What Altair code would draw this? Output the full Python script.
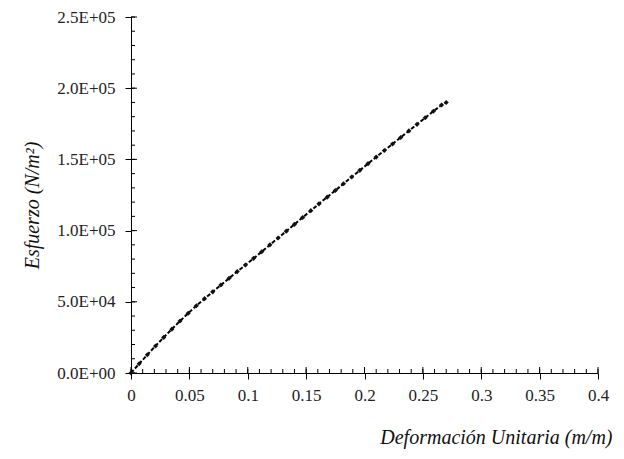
import altair as alt
import pandas as pd
import numpy as np

# Data
strain = [0, 0.007, 0.014, 0.021, 0.028, 0.035, 0.042, 0.049, 0.056, 0.063,
          0.070, 0.077, 0.084, 0.091, 0.098, 0.105, 0.112, 0.119, 0.126, 0.133,
          0.140, 0.147, 0.154, 0.161, 0.168, 0.175, 0.182, 0.189, 0.196, 0.203,
          0.210, 0.217, 0.224, 0.231, 0.238, 0.245, 0.252, 0.259, 0.266, 0.270]
stress = [0, 6500, 12800, 19000, 25000, 30800, 36500, 42000, 47200, 52200,
          57000, 61800, 66500, 71200, 75800, 80500, 85200, 90000, 94800, 99600,
          104400, 109200, 114000, 118800, 123500, 128200, 132900, 137600, 142300, 147000,
          151600, 156200, 160800, 165400, 170000, 174600, 179200, 183800, 188200, 190000]

x_major = [0, 0.05, 0.1, 0.15, 0.2, 0.25, 0.3, 0.35, 0.4]
y_major = [0, 50000, 100000, 150000, 200000, 250000]
x_minor = [round(v, 2) for v in np.arange(0, 0.4001, 0.01)]
y_minor = [int(v) for v in np.arange(0, 250001, 10000)]

df = pd.DataFrame({"strain": strain, "stress": stress})

W, H = 467, 356
FONT = "Liberation Serif"

xs = alt.Scale(domain=[0, 0.4], nice=False, zero=False)
ys = alt.Scale(domain=[0, 250000], nice=False, zero=False)

x_axis = alt.Axis(values=x_major, format=".2~f", grid=False, domainColor="black",
                  tickColor="black", tickSize=6, labelFont=FONT, labelFontSize=17,
                  labelColor="#222", labelPadding=8, labelFlush=False,
                  title="Deformación Unitaria (m/m)", titleFont=FONT, titleFontSize=20,
                  titleFontStyle="italic", titleFontWeight="normal", titleColor="#111",
                  titleAlign="right", titleAnchor="end", titleX=W + 14, titleY=64,
                  titleBaseline="middle")
y_axis = alt.Axis(values=y_major, labelExpr="replace(format(datum.value, '.1e'), 'e+', 'E+0')",
                  grid=False, domainColor="black", tickColor="black", tickSize=6,
                  labelFont=FONT, labelFontSize=17, labelColor="#222", labelPadding=10,
                  labelFlush=False,
                  title="Esfuerzo (N/m²)", titleFont=FONT, titleFontSize=20,
                  titleFontStyle="italic", titleFontWeight="normal", titleColor="#111",
                  titleAngle=-90, titleX=-99, titleY=188, titleAlign="center",
                  titleBaseline="middle")

line = alt.Chart(df).mark_line(color="black", strokeWidth=2, strokeDash=[4, 2]).encode(
    x=alt.X("strain:Q", scale=xs, axis=x_axis),
    y=alt.Y("stress:Q", scale=ys, axis=y_axis),
)
pts = alt.Chart(df).mark_point(shape="diamond", filled=True, color="#111", size=26, opacity=1).encode(
    x=alt.X("strain:Q", scale=xs),
    y=alt.Y("stress:Q", scale=ys),
)

# inner tick marks (minor and inner half of major)
xmin_df = pd.DataFrame({"v": x_minor})
ymin_df = pd.DataFrame({"v": y_minor})
xmaj_df = pd.DataFrame({"v": x_major})
ymaj_df = pd.DataFrame({"v": y_major})

xminor = alt.Chart(xmin_df).mark_rule(color="black", strokeWidth=1).encode(
    x=alt.X("v:Q", scale=xs), y=alt.value(H), y2=alt.value(H - 4))
yminor = alt.Chart(ymin_df).mark_rule(color="black", strokeWidth=1).encode(
    y=alt.Y("v:Q", scale=ys), x=alt.value(0), x2=alt.value(4))
xmaj_in = alt.Chart(xmaj_df).mark_rule(color="black", strokeWidth=1).encode(
    x=alt.X("v:Q", scale=xs), y=alt.value(H), y2=alt.value(H - 6))
ymaj_in = alt.Chart(ymaj_df).mark_rule(color="black", strokeWidth=1).encode(
    y=alt.Y("v:Q", scale=ys), x=alt.value(0), x2=alt.value(6))

chart = alt.layer(line, xminor, yminor, xmaj_in, ymaj_in, pts).properties(
    width=W, height=H,
    autosize=alt.AutoSizeParams(type="none"),
    padding={"left": 123, "top": 9, "right": 17, "bottom": 78},
    background="white",
).configure_view(stroke=None)

chart.save("out.html", embed_options={"renderer": "svg", "actions": False})
